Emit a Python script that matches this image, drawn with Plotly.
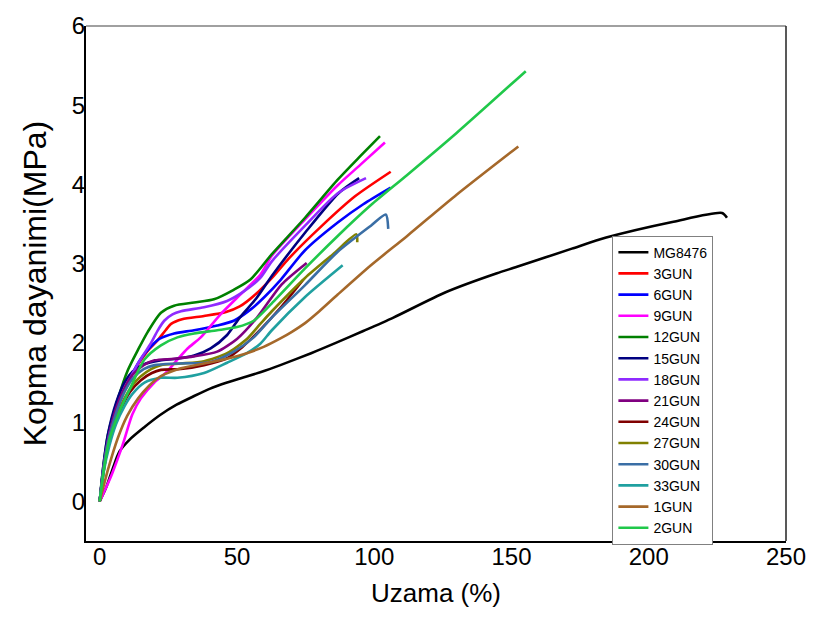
import plotly.graph_objects as go

# ---- data (Uzama %, Kopma dayanimi MPa) ----
names = ["MG8476", "3GUN", "6GUN", "9GUN", "12GUN", "15GUN", "18GUN",
         "21GUN", "24GUN", "27GUN", "30GUN", "33GUN", "1GUN", "2GUN"]
colors = ["#000000", "#FF0000", "#0000FF", "#FF00FF", "#008000", "#000080",
          "#8F2BFF", "#800080", "#800000", "#808000", "#3A6EA5", "#20A0A0",
          "#A5682A", "#20C84A"]

x_mg = [0, 2.4, 4.8, 7.2, 10.9, 16, 22, 28, 34.4, 40, 46.4, 52, 58.5, 65.8, 77, 86, 96, 107, 126, 144.7, 152, 172, 184.5, 209, 226.7, 228.5]
y_mg = [0, 0.18, 0.42, 0.63, 0.78, 0.93, 1.09, 1.22, 1.33, 1.42, 1.50, 1.56, 1.63, 1.72, 1.87, 2.0, 2.15, 2.32, 2.64, 2.88, 2.96, 3.19, 3.33, 3.53, 3.64, 3.58]

x_3 = [0, 1.5, 3.5, 6, 9, 12, 15, 18, 21, 24, 26, 30, 38, 46, 51, 57, 63, 69, 81, 93, 106]
y_3 = [0, 0.45, 0.85, 1.15, 1.42, 1.62, 1.78, 1.92, 2.03, 2.16, 2.24, 2.30, 2.34, 2.39, 2.46, 2.62, 2.83, 3.07, 3.48, 3.85, 4.16]

x_6 = [0, 1.5, 3.5, 6, 9, 12, 15, 18, 21.7, 27.1, 34.4, 42.8, 48.8, 54.9, 60, 66, 74.8, 86.7, 96, 106]
y_6 = [0, 0.45, 0.85, 1.15, 1.40, 1.62, 1.80, 1.93, 2.05, 2.12, 2.16, 2.22, 2.28, 2.42, 2.58, 2.80, 3.17, 3.52, 3.75, 3.96]

x_9 = [0, 2, 4.5, 8.4, 11.9, 15, 19.9, 24, 28.3, 32, 36.8, 44, 51.2, 58.5, 62.7, 74.8, 86.7, 95, 103.9]
y_9 = [0, 0.15, 0.35, 0.72, 1.10, 1.30, 1.50, 1.62, 1.79, 1.93, 2.07, 2.36, 2.61, 2.86, 3.10, 3.56, 3.99, 4.25, 4.53]

x_12 = [0, 1, 3, 6.6, 10.3, 13.9, 17.5, 22.3, 27.1, 34.4, 41.6, 48.8, 54.9, 62.7, 74.8, 86.7, 95, 102.1]
y_12 = [0, 0.35, 0.84, 1.29, 1.66, 1.91, 2.14, 2.38, 2.47, 2.51, 2.55, 2.67, 2.80, 3.12, 3.58, 4.06, 4.36, 4.61]

x_15 = [0, 1.5, 3, 6, 9, 12, 16, 22, 28, 34.4, 40.4, 46.4, 51, 57, 63, 75, 87, 94.5]
y_15 = [0, 0.50, 0.85, 1.25, 1.50, 1.64, 1.73, 1.78, 1.80, 1.84, 1.93, 2.10, 2.32, 2.56, 2.86, 3.40, 3.89, 4.08]

x_18 = [0, 1.5, 3.5, 6, 9, 12, 15, 18.7, 21, 23.5, 26.5, 29.6, 38, 46.4, 52.5, 58.5, 62.7, 74.8, 86.7, 97]
y_18 = [0, 0.45, 0.85, 1.15, 1.42, 1.62, 1.80, 2.00, 2.15, 2.28, 2.36, 2.40, 2.45, 2.53, 2.65, 2.82, 3.03, 3.48, 3.89, 4.08]

x_21 = [0, 1.5, 3.5, 6, 9, 12, 16, 20, 27, 34.4, 42.8, 50, 57.3, 66.3, 75.4]
y_21 = [0, 0.45, 0.85, 1.18, 1.43, 1.60, 1.72, 1.78, 1.80, 1.83, 1.89, 2.05, 2.32, 2.74, 3.01]

x_24 = [0, 1.5, 3, 7, 11, 15, 19, 22.3, 29.6, 38, 46, 52, 58, 66, 74.2]
y_24 = [0, 0.40, 0.70, 1.10, 1.38, 1.53, 1.62, 1.66, 1.67, 1.72, 1.80, 1.95, 2.15, 2.45, 2.80]

x_27 = [0, 1.5, 3.5, 6, 9, 12, 15, 18.7, 22.3, 29.6, 38, 46.4, 53.6, 58.5, 62.7, 74.8, 85, 93.5, 93.8]
y_27 = [0, 0.40, 0.78, 1.05, 1.30, 1.47, 1.58, 1.67, 1.72, 1.74, 1.77, 1.87, 2.05, 2.24, 2.40, 2.82, 3.12, 3.37, 3.27]

x_30 = [0, 1.5, 3.5, 6, 9, 12, 16, 20, 28.3, 40.4, 48.8, 56.1, 62.7, 74.8, 86.7, 98.8, 104.2, 105.1]
y_30 = [0, 0.45, 0.82, 1.12, 1.38, 1.55, 1.67, 1.72, 1.74, 1.76, 1.89, 2.07, 2.32, 2.73, 3.15, 3.48, 3.62, 3.44]

x_33 = [0, 1.5, 3.5, 6, 9, 12, 16.3, 22.3, 28.3, 38, 46.4, 53.6, 58.5, 62.7, 74.8, 88.5]
y_33 = [0, 0.38, 0.70, 0.98, 1.20, 1.36, 1.50, 1.56, 1.56, 1.62, 1.75, 1.87, 1.99, 2.16, 2.58, 2.98]

x_1 = [0, 3, 6.6, 10, 14, 18, 22.3, 29.6, 38, 46.4, 53.6, 59.7, 66, 70, 74.8, 80, 86.7, 98.8, 112, 130, 152.5]
y_1 = [0, 0.40, 0.80, 1.08, 1.30, 1.46, 1.58, 1.68, 1.74, 1.80, 1.87, 1.95, 2.06, 2.14, 2.25, 2.40, 2.61, 2.98, 3.35, 3.87, 4.48]

x_2 = [0, 1.5, 3.5, 7, 11, 16.3, 22.3, 28.3, 34.4, 42.8, 50, 56.1, 62.7, 74.8, 86.7, 98.8, 112, 130, 155.2]
y_2 = [0, 0.40, 0.78, 1.12, 1.42, 1.79, 1.97, 2.07, 2.12, 2.16, 2.20, 2.28, 2.50, 2.94, 3.35, 3.74, 4.12, 4.65, 5.43]

xs = [x_mg, x_3, x_6, x_9, x_12, x_15, x_18, x_21, x_24, x_27, x_30, x_33, x_1, x_2]
ys = [y_mg, y_3, y_6, y_9, y_12, y_15, y_18, y_21, y_24, y_27, y_30, y_33, y_1, y_2]

x_ticks = [0, 50, 100, 150, 200, 250]
y_ticks = [0, 1, 2, 3, 4, 5, 6]

FONT = "Liberation Sans, Arial, sans-serif"

fig = go.Figure()
for n, c, xv, yv in zip(names, colors, xs, ys):
    fig.add_trace(go.Scatter(x=xv, y=yv, mode="lines", name=n,
                             line=dict(color=c, width=2.6, shape="spline", smoothing=0.7)))

fig.update_layout(
    width=818, height=619,
    margin=dict(l=86, r=27, t=16, b=78),
    paper_bgcolor="white", plot_bgcolor="white",
    font=dict(family=FONT, color="black"),
    showlegend=True,
    legend=dict(x=0.752, y=0.593, xanchor="left", yanchor="top",
                bgcolor="white", bordercolor="#808080", borderwidth=1,
                font=dict(size=14, family=FONT, color="black"),
                tracegroupgap=0),
    xaxis=dict(range=[-5, 250], tickvals=x_ticks, showgrid=False, zeroline=False,
               showline=True, linecolor="black", linewidth=2, ticks="",
               ticklabelstandoff=-7,
               tickfont=dict(size=24, family=FONT),
               title=dict(text="Uzama (%)", font=dict(size=26, family=FONT), standoff=15)),
    yaxis=dict(range=[-0.5, 6], tickvals=y_ticks, showgrid=False, zeroline=False,
               showline=True, linecolor="black", linewidth=2, ticks="",
               ticklabelstandoff=-6,
               tickfont=dict(size=24, family=FONT),
               title=dict(text="Kopma dayanimi(MPa)", font=dict(size=32, family=FONT), standoff=16)),
    shapes=[
        dict(type="line", xref="paper", yref="paper", x0=0, x1=1, y0=1, y1=1,
             line=dict(color="#808080", width=1.5)),
        dict(type="line", xref="paper", yref="paper", x0=1, x1=1, y0=0, y1=1,
             line=dict(color="#222222", width=1.5)),
    ],
)

fig.write_html("out.html")
